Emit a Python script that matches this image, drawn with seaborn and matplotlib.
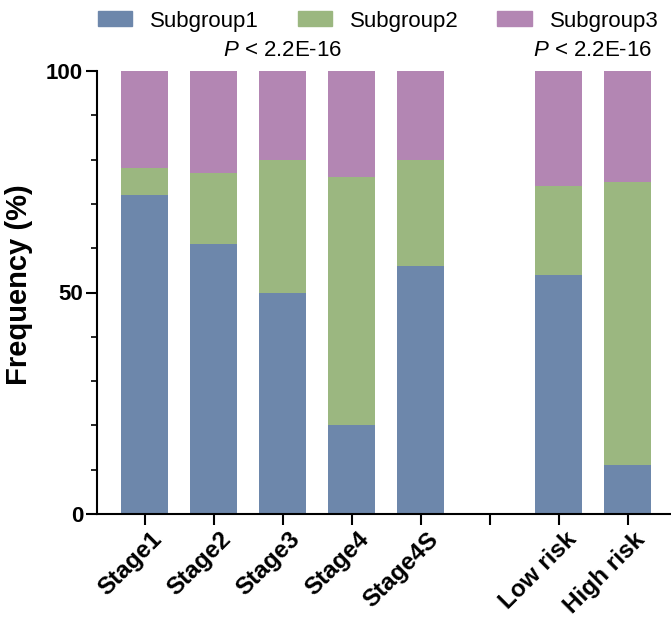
import matplotlib
matplotlib.use("Agg")
import matplotlib.pyplot as plt
import matplotlib.patches as mpatches
import matplotlib.transforms as mtransforms
from matplotlib.ticker import MultipleLocator
import pandas as pd
import seaborn as sns

# values (percent per group)
groups = ["Stage1", "Stage2", "Stage3", "Stage4", "Stage4S", "Low risk", "High risk"]
subgroup1 = [72, 61, 50, 20, 56, 54, 11]
subgroup2 = [6, 16, 30, 56, 24, 20, 64]
subgroup3 = [22, 23, 20, 24, 20, 26, 25]
series_names = ["Subgroup1", "Subgroup2", "Subgroup3"]
p_label = r"$\it{P}$ < 2.2E-16"
p_positions = [2, 6.5]  # centred over Stage3 and between the risk groups

# empty slot between stage groups and risk groups
order = groups[:5] + [""] + groups[5:]

colors = ["#6d87ab", "#9bb780", "#b386b3"]

sns.set_theme(style="ticks")
plt.rcParams["font.family"] = ["Liberation Sans", "DejaVu Sans"]
plt.rcParams["text.color"] = "black"
plt.rcParams["axes.labelcolor"] = "black"
plt.rcParams["mathtext.fontset"] = "custom"
plt.rcParams["mathtext.it"] = "Liberation Sans:italic"

df = pd.DataFrame({
    "group": groups,
    "s1": subgroup1,
    "s2": subgroup2,
    "s3": subgroup3,
})
df["c1"] = df["s1"]
df["c2"] = df["s1"] + df["s2"]
df["c3"] = df["s1"] + df["s2"] + df["s3"]

fig = plt.figure(figsize=(6.71, 6.2), dpi=100)
ax = fig.add_axes([97 / 671, 1 - 514 / 620, 1 - 97 / 671, (514 - 71) / 620])

# stacked bars drawn as cumulative layers, back to front
for col, color in zip(["c3", "c2", "c1"], colors[::-1]):
    sns.barplot(data=df, x="group", y=col, order=order, color=color,
                saturation=1, width=0.68, linewidth=0, ax=ax, errorbar=None)

ax.set_xlim(-0.69, 7.63)
ax.set_ylim(0, 100)
ax.set_yticks([0, 50, 100])
ax.yaxis.set_minor_locator(MultipleLocator(10))
sns.despine(ax=ax)
for side in ["left", "bottom"]:
    ax.spines[side].set_linewidth(1.5)
    ax.spines[side].set_color("black")

ax.tick_params(axis="y", which="major", length=8, width=1.5, pad=2,
               labelsize=16, colors="black")
ax.tick_params(axis="y", which="minor", length=4.5, width=1.2, colors="black")
ax.tick_params(axis="x", length=8, width=1.5, pad=2, labelsize=17.5, colors="black")
for lab in ax.get_yticklabels():
    lab.set_fontweight("bold")
ax.set_xticks(range(len(order)))
ax.set_xticklabels(order, rotation=45, ha="right", rotation_mode="anchor",
                   fontweight="bold")
shift = mtransforms.ScaledTranslation(6 / 100, 0, fig.dpi_scale_trans)
for lab in ax.get_xticklabels():
    lab.set_transform(lab.get_transform() + shift)

ax.set_xlabel("")
ax.set_ylabel("Frequency (%)", fontsize=21, fontweight="bold")
ax.yaxis.set_label_coords(-0.112, 0.518)

# p-value annotations above the two group blocks
blend = mtransforms.blended_transform_factory(ax.transData, fig.transFigure)
for xpos in p_positions:
    ax.text(xpos, 1 - 51 / 620, p_label, transform=blend, ha="center",
            va="center", fontsize=16, clip_on=False)

handles = [mpatches.Patch(color=c, label=n) for c, n in zip(colors, series_names)]
fig.legend(handles=handles, loc="center", bbox_to_anchor=(378 / 671, 1 - 21 / 620),
           ncol=3, frameon=False, fontsize=16, handlelength=1.55, handleheight=0.63,
           handletextpad=0.8, columnspacing=1.75, borderpad=0, borderaxespad=0)

fig.savefig("out.png", dpi=100)
